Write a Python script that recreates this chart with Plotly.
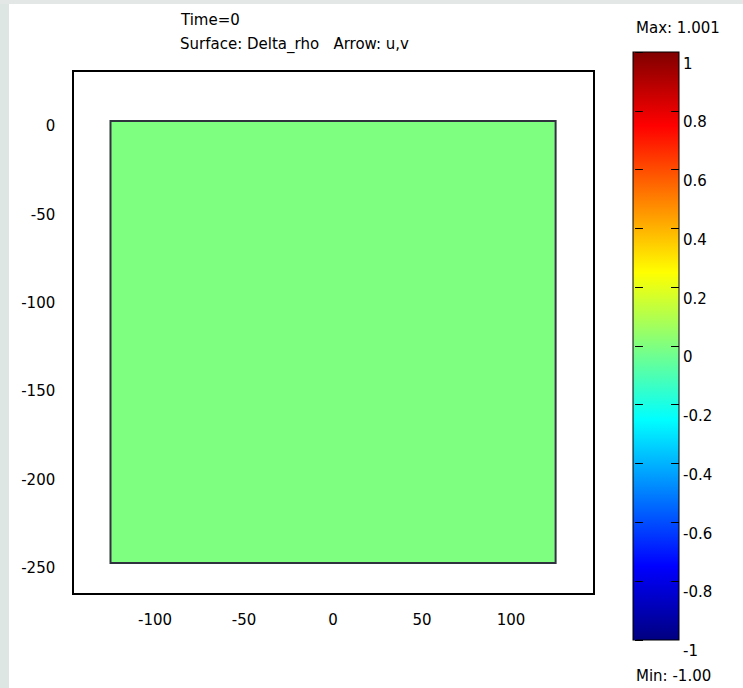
import plotly.graph_objects as go

# ---- data ----
domain_x = [-125, 125]          # rectangle extent in x
domain_y = [-250, 0]            # rectangle extent in y
delta_rho = [[0.0]]             # surface value at Time=0
c_min, c_max = -1.0, 1.001
x_ticks = [-100, -50, 0, 50, 100]
x_text = ["-100", "-50", "0", "50", "100"]
y_ticks = [0, -50, -100, -150, -200, -250]
y_text = ["0", "-50", "-100", "-150", "-200", "-250"]
cb_ticks = [1, 0.8, 0.6, 0.4, 0.2, 0, -0.2, -0.4, -0.6, -0.8, -1]
cb_text = ["1", "0.8", "0.6", "0.4", "0.2", "0", "-0.2", "-0.4", "-0.6", "-0.8", "-1"]
title1 = "Time=0"
title2 = "Surface: Delta_rho\u00a0\u00a0\u00a0Arrow: u,v"
max_label = "Max: 1.001"
min_label = "Min: -1.00"

W, H = 743, 688
ML, MR, MT, MB = 74, 150, 72, 95
PW, PH = W - ML - MR, H - MT - MB

def px(x):
    return (x - ML) / PW

def py(y):
    return (H - MB - y) / PH

jet = [[0, "rgb(0,0,128)"], [0.125, "rgb(0,0,255)"], [0.375, "rgb(0,255,255)"],
       [0.625, "rgb(255,255,0)"], [0.875, "rgb(255,0,0)"], [1, "rgb(128,0,0)"]]

FONT = "DejaVu Sans"
FS = 15

fig = go.Figure()
fig.add_trace(go.Heatmap(z=delta_rho, x=domain_x, y=domain_y, coloraxis="coloraxis"))
# duplicate trace: provides the left-side tick marks of the colour bar
fig.add_trace(go.Heatmap(z=delta_rho, x=domain_x, y=domain_y, coloraxis="coloraxis2",
                         hoverinfo="skip"))

fig.add_shape(type="rect", xref="x", yref="y", x0=domain_x[0], x1=domain_x[1],
              y0=domain_y[0], y1=domain_y[1], line=dict(color="#2e333d", width=2))

cb_top, cb_bot = 52, 640
cb_common = dict(yref="paper", xanchor="left", yanchor="middle",
                 y=py((cb_top + cb_bot) / 2), lenmode="pixels", len=cb_bot - cb_top,
                 xpad=0, ypad=0, tickvals=cb_ticks, ticktext=cb_text)

fig.update_layout(
    width=W, height=H,
    margin=dict(l=ML, r=MR, t=MT, b=MB),
    paper_bgcolor="white", plot_bgcolor="white",
    font=dict(family=FONT, size=FS, color="black"),
    showlegend=False,
    coloraxis=dict(colorscale=jet, cmin=c_min, cmax=c_max,
                   colorbar=dict(x=px(633), thickness=46, outlinecolor="black", outlinewidth=1,
                                 ticks="inside", ticklen=8, tickcolor="black", tickwidth=1,
                                 ticklabelposition="outside bottom",
                                 tickfont=dict(family=FONT, size=FS), **cb_common)),
    coloraxis2=dict(colorscale=jet, cmin=c_min, cmax=c_max,
                    colorbar=dict(x=px(634), thickness=1, outlinewidth=0,
                                  ticks="outside", ticklen=8, tickcolor="black", tickwidth=1,
                                  showticklabels=False, **cb_common)),
    xaxis=dict(range=[-145.5, 146], tickvals=x_ticks, ticktext=x_text,
               showgrid=False, zeroline=False,
               showline=True, mirror=True, linecolor="black", linewidth=1.5,
               ticks="", ticklabelstandoff=12, tickfont=dict(size=FS)),
    yaxis=dict(range=[-267, 27.7], tickvals=y_ticks, ticktext=y_text,
               showgrid=False, zeroline=False,
               showline=True, mirror=True, linecolor="black", linewidth=1.5,
               ticks="", ticklabelstandoff=14, ticklabelshift=5, tickfont=dict(size=FS)),
)

# background edge strips
fig.add_shape(type="rect", xref="paper", yref="paper", x0=px(0), x1=px(9), y0=py(H), y1=py(0),
              line=dict(width=0), fillcolor="#dee6e3", layer="below")
fig.add_shape(type="rect", xref="paper", yref="paper", x0=px(0), x1=px(W), y0=py(4), y1=py(0),
              line=dict(width=0), fillcolor="#e3e8e6", layer="below")

ann = [
    (title1, 178, 20),
    (title2, 178, 44),
    (max_label, 634, 28),
    (min_label, 634, 676),
]
for text, x, y in ann:
    fig.add_annotation(text=text, xref="paper", yref="paper", x=px(x), y=py(y),
                       xanchor="left", yanchor="middle", showarrow=False,
                       font=dict(family=FONT, size=FS, color="black"))

fig.write_html("out.html")
